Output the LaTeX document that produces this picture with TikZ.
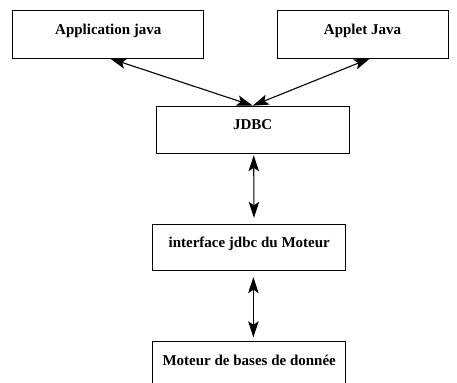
\documentclass[tikz,border=0pt]{standalone}
\usepackage{fontspec}
\setmainfont{Liberation Serif}
\usepackage{tikz}
\usetikzlibrary{arrows.meta}

\begin{document}
\begin{tikzpicture}[x=1bp, y=-1bp,
	box/.style={draw, line width=0.8bp, inner sep=0pt, minimum height=48bp,
		text height=5bp, text depth=5bp,
		font=\bfseries\fontsize{15bp}{18bp}\selectfont},
	>={Stealth[length=16bp, width=10.5bp, inset=3.5bp]}]
	\useasboundingbox (0,0) rectangle (457,382);
	\node[box, minimum width=191bp] (app) at (108.3,34.2) {Application java};
	\node[box, minimum width=171bp] (applet) at (362.5,34) {Applet Java};
	\node[box, minimum width=193bp, minimum height=47.3bp] (jdbc) at (252.7,129.7) {JDBC};
	\node[box, minimum width=193bp, minimum height=46.5bp] (iface) at (249.2,247.5) {interface jdbc du Moteur};
	\node[box, minimum width=193bp] (moteur) at (249.2,365) {Moteur de bases de donn\'ee};
	%
	\draw [<->, line width=1.1bp] ([xshift=2bp]app.south) to (jdbc.north);
	\draw [<->, line width=1.1bp] ([xshift=7.5bp]applet.south) to (jdbc.north);
	\draw [<->, line width=1.1bp, shorten <=1.5bp, shorten >=6bp] ([xshift=1bp]jdbc.south) to ([xshift=4.8bp]iface.north);
	\draw [<->, line width=1.1bp, shorten <=6bp, shorten >=3.3bp] ([xshift=4.2bp]iface.south) to ([xshift=4.2bp]moteur.north);
\end{tikzpicture}
\end{document}
